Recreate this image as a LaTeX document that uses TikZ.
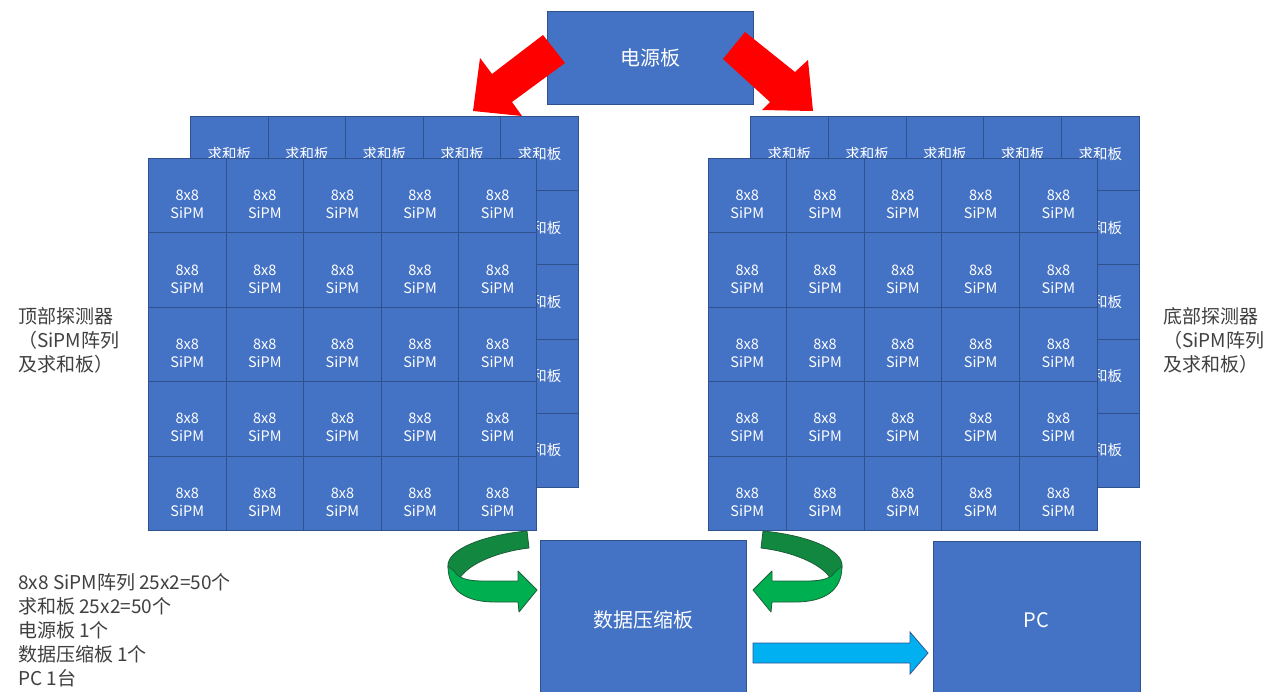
\documentclass[tikz,border=0pt]{standalone}
\usepackage{fontspec}
\setmainfont{Noto Sans CJK SC}
\definecolor{boxblue}{HTML}{4472C4}
\definecolor{boxedge}{HTML}{2F528F}
\definecolor{lbl}{HTML}{404040}
\definecolor{grnL}{HTML}{00B050}
\definecolor{grnD}{HTML}{12873F}
\definecolor{grnE}{HTML}{1D5E3A}
\definecolor{cyanA}{HTML}{00B0F0}
\definecolor{cyanE}{HTML}{2F5597}
\tikzset{
  cell/.style={draw=boxedge, fill=boxblue, line width=0.8pt, minimum width=77.7pt, minimum height=74.3pt, inner sep=0pt, anchor=north west},
  celltxt/.style={text=white, font=\fontsize{14.5}{18}\selectfont, align=center, inner sep=0pt},
  bigbox/.style={draw=boxedge, fill=boxblue, line width=0.8pt, inner sep=0pt, text=white, font=\fontsize{20}{24}\selectfont},
  lbltxt/.style={text=lbl, font=\fontsize{19}{24}\selectfont, inner sep=0pt, anchor=west, text height=16pt, text depth=2pt},
  redarrow/.style={fill=red, draw=none},
  grnback/.style={fill=grnD, draw=grnE, line width=0.8pt, line join=round},
  grnfront/.style={fill=grnL, draw=grnE, line width=0.8pt, line join=round},
  bluearrow/.style={fill=cyanA, draw=cyanE, line width=0.8pt}
}
\newcommand\grnarrowshape{%
  \path[grnback] (527,531) .. controls (485,535) and (446,549) .. (448,567) -- (457,584) .. controls (462,566) and (495,552) .. (529,548) -- cycle;
  \path[grnfront] (448,566) .. controls (448,591) and (466,602) .. (495,602) -- (518,602) -- (519,612) -- (537,590) -- (518,571) -- (518,581) -- (482,581) .. controls (468,581) and (458,578) .. (455,572) -- cycle;
}
\begin{document}
\begin{tikzpicture}[x=1pt,y=-1pt]
\useasboundingbox (0,0) rectangle (1285,691);
\fill[white] (0,0) rectangle (1285,691);

% power board
\node[bigbox, minimum width=206pt, minimum height=93pt] (power) at (650,57.5) {电源板};

% top detector: summing boards (back) and SiPM arrays (front)
\foreach \i in {0,...,4}{
  \foreach \j in {0,...,4}{
    \node[cell] (tb-\i-\j) at ({190+77.6*\j},{116+74.2*\i}) {};
    \node[celltxt] at (tb-\i-\j.center) {求和板};
  }
}
\foreach \i in {0,...,4}{
  \foreach \j in {0,...,4}{
    \node[cell] (tf-\i-\j) at ({148+77.6*\j},{158+74.4*\i}) {};
    \node[celltxt] at ([yshift=-9pt]tf-\i-\j.center) {8x8\\SiPM};
  }
}
% bottom detector
\foreach \i in {0,...,4}{
  \foreach \j in {0,...,4}{
    \node[cell] (bb-\i-\j) at ({750+77.8*\j},{116+74.2*\i}) {};
    \node[celltxt] at (bb-\i-\j.center) {求和板};
  }
}
\foreach \i in {0,...,4}{
  \foreach \j in {0,...,4}{
    \node[cell] (bf-\i-\j) at ({708+77.8*\j},{158+74.4*\i}) {};
    \node[celltxt] at ([yshift=-9pt]bf-\i-\j.center) {8x8\\SiPM};
  }
}

% red arrows from the power board
\path[redarrow] (543,35) -- (565,63) -- (512,102) -- (522,116) -- (473,111) -- (480,58) -- (492,74) -- cycle;
\path[redarrow] (745,32) -- (795,72) -- (808,60) -- (813,111) -- (762,110) -- (770,102) -- (723,59) -- cycle;

% data compression board and PC
\node[bigbox, minimum width=206pt, minimum height=160pt] (comp) at (643,620) {数据压缩板};
\node[bigbox, minimum width=207pt, minimum height=159pt] (pc) at (1036.5,620.5) {PC};

% green curved arrows
\grnarrowshape
\begin{scope}[xshift=1290pt, xscale=-1]
  \grnarrowshape
\end{scope}

% blue arrow to PC
\path[bluearrow] (753,643) -- (910,643) -- (910,632) -- (928,653) -- (910,674) -- (910,663) -- (753,663) -- cycle;

% side labels
\node[lbltxt] (tl1) at (18,316) {顶部探测器};
\node[lbltxt] (tl2) at (18,340) {（SiPM阵列};
\node[lbltxt] (tl3) at (18,364) {及求和板）};
\node[lbltxt] (bl1) at (1163,316) {底部探测器};
\node[lbltxt] (bl2) at (1163,340) {（SiPM阵列};
\node[lbltxt] (bl3) at (1163,364) {及求和板）};

% component list
\node[lbltxt] (n1) at (18,582) {8x8 SiPM阵列 25x2=50个};
\node[lbltxt] (n2) at (18,606) {求和板 25x2=50个};
\node[lbltxt] (n3) at (18,630) {电源板 1个};
\node[lbltxt] (n4) at (18,654) {数据压缩板 1个};
\node[lbltxt] (n5) at (18,678) {PC 1台};
\end{tikzpicture}
\end{document}
